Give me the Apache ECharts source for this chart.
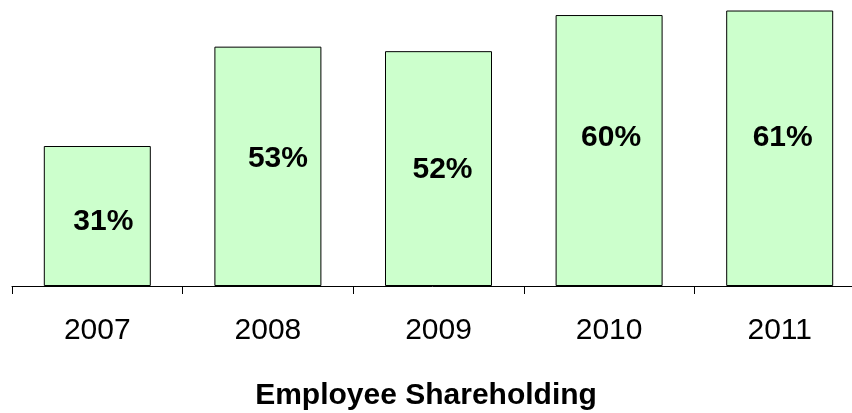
<!DOCTYPE html>
<html>
<head>
<meta charset="utf-8">
<script src="https://cdn.jsdelivr.net/npm/echarts@6/dist/echarts.min.js"></script>
<style>
    html, body { margin: 0; padding: 0; background: #fff; }
    #main { width: 852px; height: 413px; }
</style>
</head>
<body>
<div id="main"></div>
<script>
// 年份
var years = ['2007', '2008', '2009', '2010', '2011'];
// 员工持股比例 (%)
var shares = [31, 53, 52, 60, 61];
// 数值标签的微调位移
var labelShift = [[6, 6], [10, -8], [4, 1], [2, -13], [3, -11]];

var mainChart = echarts.init(document.getElementById('main'));

var barData = shares.map(function (v, i) {
    return {
        value: v,
        label: { offset: labelShift[i] }
    };
});

var option = {
    animation: false,
    title: {
        text: 'Employee Shareholding',
        left: 'center',
        top: 376,
        textStyle: {
            fontFamily: 'Liberation Sans, Arial, sans-serif',
            fontSize: 30,
            fontWeight: 'bold',
            color: '#000'
        }
    },
    grid: {
        left: 12,
        top: 6,
        width: 853,
        height: 280,
        outerBoundsMode: 'none'
    },
    xAxis: {
        type: 'category',
        data: years,
        axisLine: { lineStyle: { color: '#000', width: 1 } },
        axisTick: {
            show: true,
            length: 8,
            lineStyle: { color: '#000' }
        },
        axisLabel: {
            margin: 30,
            fontFamily: 'Liberation Sans, Arial, sans-serif',
            fontSize: 30,
            color: '#000'
        }
    },
    yAxis: {
        type: 'value',
        min: 0,
        max: 62,
        show: false,
        splitLine: { show: false }
    },
    series: [
        {
            type: 'bar',
            data: barData,
            barWidth: 107,
            itemStyle: {
                color: '#ccffcc',
                borderColor: '#000',
                borderWidth: 1
            },
            label: {
                show: true,
                position: 'inside',
                formatter: '{c}%',
                fontFamily: 'Liberation Sans, Arial, sans-serif',
                fontSize: 30,
                fontWeight: 'bold',
                color: '#000'
            }
        }
    ]
};

mainChart.setOption(option);
</script>
</body>
</html>
